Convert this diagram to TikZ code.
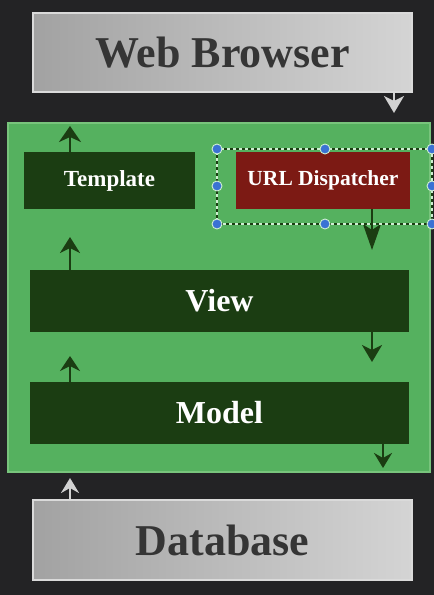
\documentclass[tikz,border=0pt]{standalone}
\usepackage{fontspec}
\setmainfont{Liberation Serif}
\usetikzlibrary{arrows.meta}

\definecolor{bgdark}{HTML}{232325}
\definecolor{panelgreen}{HTML}{55B15F}
\definecolor{paneledge}{HTML}{78C47C}
\definecolor{boxgreen}{HTML}{1B3D12}
\definecolor{boxred}{HTML}{7C1A14}
\definecolor{greyleft}{HTML}{A2A2A2}
\definecolor{greyright}{HTML}{D4D4D4}
\definecolor{greyedge}{HTML}{DADADA}
\definecolor{inktext}{HTML}{353535}
\definecolor{handleblue}{HTML}{3A72D4}
\definecolor{handleedge}{HTML}{CFEFD2}
\definecolor{arrowlight}{HTML}{D2D2D2}

\tikzset{
  greybox/.style={rectangle, draw=greyedge, line width=1.2pt,
    left color=greyleft, right color=greyright,
    text=inktext, font=\fontsize{44}{48}\selectfont\bfseries, inner sep=0pt},
  layerbox/.style={rectangle, fill=boxgreen, draw=none, text=white,
    font=\fontsize{32}{36}\selectfont\bfseries, inner sep=0pt},
  smallbox/.style={rectangle, draw=none, text=white,
    font=\fontsize{23}{26}\selectfont\bfseries, inner sep=0pt},
  flow/.style={draw=boxgreen, line width=2.8pt},
  lightflow/.style={draw=arrowlight, line width=2.4pt},
  handle/.style={circle, fill=handleblue, draw=handleedge, line width=0.9pt,
    minimum size=10pt, inner sep=0pt}
}

\begin{document}
\begin{tikzpicture}[x=1pt, y=-1pt]
  % canvas
  \fill[bgdark] (0,0) rectangle (434,595);
  \useasboundingbox (0,0) rectangle (434,595);

  % outer layers
  \node[greybox, minimum width=379pt, minimum height=79pt] (browser) at (222.5,52.5) {Web Browser};
  \node[greybox, minimum width=379pt, minimum height=80pt] (database) at (222.5,540) {Database};

  % application panel
  \node[rectangle, fill=panelgreen, draw=paneledge, line width=1.2pt,
        minimum width=422pt, minimum height=349pt, inner sep=0pt] (panel) at (219,297.5) {};

  % components
  \node[smallbox, fill=boxgreen, minimum width=171pt, minimum height=57pt] (template) at (109.5,180.5) {Template};
  \node[smallbox, fill=boxred, minimum width=174pt, minimum height=57pt,
        font=\fontsize{21.5}{24}\selectfont\bfseries] (dispatcher) at (323,180.5) {URL Dispatcher};
  \node[layerbox, minimum width=379pt, minimum height=62pt] (view) at (219.5,301) {View};
  \node[layerbox, minimum width=379pt, minimum height=62pt] (model) at (219.5,413) {Model};

  % free ends of the arrows
  \coordinate (browserTip) at (394,113);
  \coordinate (templateTip) at (70,126);
  \coordinate (dispatchTip) at (372,250);
  \coordinate (viewUpTip) at (70,237);
  \coordinate (viewDownTip) at (372,362);
  \coordinate (modelUpTip) at (70,356);
  \coordinate (modelDownTip) at (383,468);
  \coordinate (dbTip) at (70,478);

  % arrows
  \draw[lightflow, -{Stealth[length=17pt, width=20pt, inset=5pt]}]
    (browser.south -| browserTip) -- (browserTip);
  \draw[flow, -{Stealth[length=16pt, width=22pt, inset=5pt]}]
    (template.north -| templateTip) -- (templateTip);
  \draw[flow, -{Stealth[length=26pt, width=18pt, inset=6pt]}]
    (dispatcher.south -| dispatchTip) -- (dispatchTip);
  \draw[flow, -{Stealth[length=16pt, width=20pt, inset=5pt]}]
    (view.north -| viewUpTip) -- (viewUpTip);
  \draw[flow, -{Stealth[length=17pt, width=20pt, inset=5pt]}]
    (view.south -| viewDownTip) -- (viewDownTip);
  \draw[flow, -{Stealth[length=15pt, width=20pt, inset=5pt]}]
    (model.north -| modelUpTip) -- (modelUpTip);
  \draw[flow, -{Stealth[length=15pt, width=18pt, inset=5pt]}]
    (model.south -| modelDownTip) -- (modelDownTip);
  \draw[lightflow, -{Stealth[length=15pt, width=18pt, inset=5pt]}]
    (database.north -| dbTip) -- (dbTip);

  % selection frame around the dispatcher
  \coordinate (selNW) at (217,149);
  \coordinate (selSE) at (432,224);
  \draw[handleedge, line width=1.4pt, dash pattern=on 3pt off 3pt, dash phase=3pt] (selNW) rectangle (selSE);
  \draw[boxgreen, line width=1.4pt, dash pattern=on 3pt off 3pt] (selNW) rectangle (selSE);
  \foreach \hx/\hy [count=\i] in {217/149, 325/149, 432/149, 217/186, 432/186, 217/224, 325/224, 432/224}
    \node[handle] (h\i) at (\hx,\hy) {};
\end{tikzpicture}
\end{document}
